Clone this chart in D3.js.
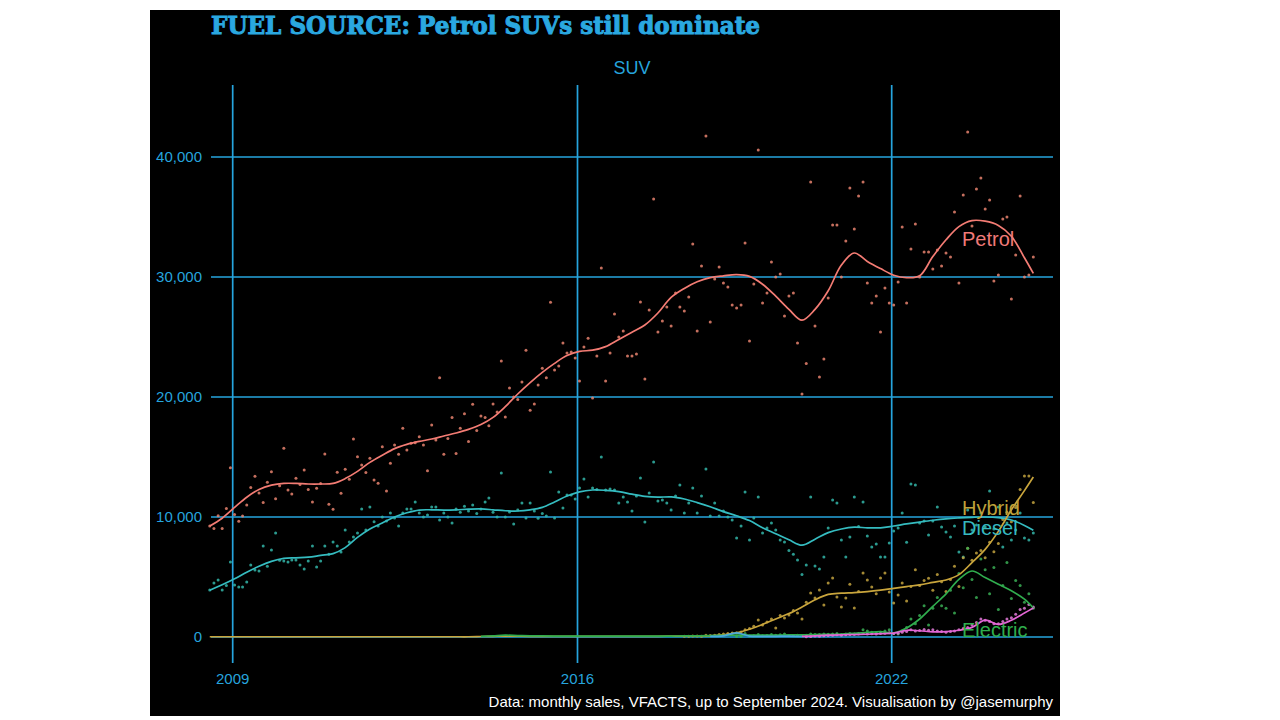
<!DOCTYPE html>
<html>
<head>
<meta charset="utf-8">
<script src="https://cdn.jsdelivr.net/npm/d3@7"></script>
<style>
  html, body { margin: 0; padding: 0; background: #fff; }
  svg { display: block; }
</style>
</head>
<body>
<div id="chart"></div>
<script>
// monthly SUV sales by fuel, Jul 2008 .. Sep 2024
const petrolMonthly = [
  9250, 9050, 10100, 9050, 10700, 14100,
  10200, 9650, 10080, 11000, 12450, 13400, 12000, 11200, 12900, 13780, 11530, 12610,
  15720, 12250, 11920, 13220, 12700, 13920, 12300, 11250, 12390, 12800, 15250, 11060,
  10640, 13720, 11970, 13970, 13140, 16500, 15030, 14330, 13700, 14900, 13080, 12810,
  15860, 12170, 14470, 16000, 15220, 17400, 15580, 16140, 16190, 16690, 16000, 13860,
  17670, 16410, 21600, 15220, 16550, 18300, 15300, 17400, 18600, 16300, 19400, 17200,
  18420, 18300, 17600, 19420, 18750, 23000, 18330, 20750, 20000, 19800, 21250, 23900,
  18900, 19420, 21000, 22400, 21600, 27900, 22250, 22580, 24500, 23670, 23750, 23250,
  21330, 24170, 24900, 19920, 23420, 30750, 21330, 23670, 26920, 25000, 25500, 23420,
  23420, 23580, 27920, 21500, 27250, 36500, 25420, 26330, 27500, 25920, 28670, 27500,
  27170, 28330, 32750, 25500, 30920, 41750, 26250, 29830, 30830, 29500, 29170, 27670,
  27420, 27670, 32830, 24670, 29420, 40580, 27830, 28670, 31250, 30000, 30250, 26750,
  28420, 28670, 24500, 20250, 22800, 37920, 25920, 21670, 23170, 28250, 34330, 34330,
  30000, 33000, 37420, 34000, 36750, 37920, 29500, 27830, 28420, 25420, 29080, 27830,
  27670, 29580, 34170, 27830, 32330, 34420, 30000, 32080, 32080, 30670, 32250, 30920,
  32000, 31670, 35420, 29500, 36830, 42080, 34250, 37330, 38250, 35670, 36420, 29670,
  30170, 34830, 35000, 28170, 31830, 36750, 30000, 30170, 31670
];
const dieselMonthly = [
  3920, 4500, 4750, 3920, 4300, 6250,
  4330, 4170, 4170, 4580, 6000, 5580, 5500, 7580, 5900, 7250, 8670, 6400,
  6330, 6250, 6420, 6420, 6000, 5670, 6330, 7580, 5830, 6330, 7580, 6900,
  7920, 7580, 7080, 8920, 7920, 8330, 8670, 10670, 8920, 10830, 9600, 9250,
  10000, 9670, 10330, 9920, 9250, 10330, 10670, 10670, 11250, 10330, 10000, 10170,
  10830, 10830, 9750, 10330, 10000, 9500, 10670, 10400, 10900, 10500, 11000, 10300,
  10670, 11250, 11580, 10400, 10000, 13670, 10000, 10420, 9420, 10580, 11170, 9920,
  11170, 10500, 9900, 10300, 10080, 13750, 9920, 12080, 10750, 11830, 11830, 11500,
  12420, 13170, 11670, 12420, 12300, 15000, 12250, 12330, 12250, 11170, 11670, 11250,
  10500, 11750, 13250, 9580, 12000, 14580, 11330, 11420, 11170, 10580, 11750, 12670,
  10330, 11170, 12420, 10330, 11750, 14000, 10080, 11170, 10080, 10500, 10000, 9750,
  8250, 9250, 12080, 8080, 9920, 11670, 8670, 9080, 9500, 8920, 8080, 7920,
  7200, 6900, 6420, 5200, 6000, 11670, 5920, 5670, 6670, 9080, 11420, 11170,
  8080, 6670, 8330, 11670, 9200, 11250, 8420, 7500, 7750, 6670, 6670, 7830,
  8830, 9080, 10330, 7900, 12750, 12670, 9500, 9670, 8500, 9670, 10830, 9170,
  8750, 8330, 9250, 7080, 6670, 10580, 8920, 9330, 10330, 9170, 12170, 9000,
  10830, 7500, 9500, 8080, 8920, 10330, 8250, 8080, 8670
];
// from Jan 2018
const hybridMonthly = [
  60, 70, 80, 90, 70, 150, 120, 140, 200, 260, 300, 330,
  350, 420, 600, 700, 900, 1420, 1000, 1250, 1500, 750, 1800, 1580,
  1830, 2200, 2000, 1500, 2900, 3670, 3250, 3920, 2670, 4500, 4920, 3330,
  2500, 3250, 4400, 2420, 3800, 5330, 4750, 4170, 3600, 4920, 5330, 3750,
  2830, 3500, 4500, 3000, 4200, 5600, 4300, 4700, 4900, 3900, 5200, 4600,
  3800, 4800, 5900, 4200, 6600, 7400, 6400, 7000, 7200, 6600, 7900, 7100,
  7800, 9800, 10400, 9600, 10800, 12300, 13420, 13420, 11200
];
// from Jan 2019
const electricMonthly = [
  50, 60, 300, 80, 100, 200, 100, 120, 200, 150, 180, 250,
  100, 120, 150, 100, 150, 250, 200, 200, 250, 220, 250, 300,
  200, 250, 300, 250, 300, 600, 500, 400, 350, 400, 500, 600,
  300, 250, 500, 800, 1500, 1100, 1800, 2600, 1000, 2400, 3300, 2600,
  2400, 3900, 2000, 5300, 4100, 7400, 4800, 3300, 6500, 5600, 3600, 5800,
  2300, 4300, 6200, 3200, 4700, 4300, 2900, 3600, 2400
];
// from May 2020
const phevMonthly = [
  30, 50, 80, 60, 100, 120, 150, 180,
  150, 180, 200, 220, 250, 300, 250, 280, 260, 300, 320, 350,
  300, 320, 400, 450, 600, 500, 550, 620, 560, 600, 500, 450,
  400, 450, 500, 600, 700, 800, 1000, 1200, 1500, 1400, 1300, 1100,
  1100, 1300, 1500, 1600, 1900, 2300, 2400, 2700, 2500
];

// smoothed trends, one value per quarter from Jul 2008, last one Sep 2024
const petrolTrend = [
  9250, 9900, 10800, 11650, 12300, 12650, 12800, 12800, 12750, 12750,
  12800, 13200, 13800, 14550, 15150, 15700, 16050, 16300, 16500, 16750,
  17000, 17300, 17700, 18300, 19200, 20250, 21200, 22050, 22800, 23450,
  23800, 23900, 24200, 24800, 25400, 26000, 27000, 28300, 29050, 29600,
  29950, 30100, 30200, 30050, 29400, 28400, 27300, 26400, 27300, 28850,
  31000, 32000, 31300, 30700, 30150, 29950, 30100, 31700, 33100, 34200,
  34700, 34650, 34300, 33400, 31600, 30300
];
const dieselTrend = [
  3900, 4350, 4850, 5400, 5900, 6300, 6550, 6600, 6650, 6800,
  6950, 7450, 8300, 9000, 9500, 10000, 10350, 10580, 10600, 10580,
  10600, 10650, 10670, 10600, 10520, 10500, 10600, 10800, 11250, 11750,
  12100, 12250, 12220, 12120, 11900, 11720, 11650, 11680, 11500, 11200,
  10850, 10450, 10100, 9700, 9100, 8600, 8100, 7650, 8150, 8700,
  9000, 9150, 9100, 9100, 9250, 9420, 9580, 9730, 9850, 9920,
  9970, 10000, 9950, 9750, 9300, 8900
];
const hybridTrend = [
  20, 20, 20, 20, 20, 20, 20, 20, 20, 20,
  20, 20, 20, 20, 20, 20, 20, 20, 20, 20,
  20, 20, 40, 60, 80, 70, 60, 60, 60, 60,
  60, 60, 60, 60, 60, 60, 60, 70, 70, 80,
  100, 180, 350, 650, 1050, 1500, 1950, 2500, 3100, 3550,
  3650, 3700, 3780, 3900, 4050, 4200, 4350, 4550, 4750, 5200,
  6200, 7300, 8800, 10600, 12200, 13330
];
// from the 2014 Q1 point
const electricTrend = [
  60, 100, 150, 120, 100, 90, 80, 80,
  80, 80, 80, 70, 70, 70, 70, 80,
  90, 100, 120, 140, 150, 150, 150, 160,
  170, 180, 200, 220, 250, 300, 380, 450,
  350, 750, 1500, 2550, 3600, 4800, 5500, 4950, 4400, 3850, 3150, 2420
];
// short unlabelled series, Jul 2018 .. Apr 2020
const otherTrend = [50, 100, 350, 80, 60, 60, 80, 60];
// pink series from Apr 2020
const phevTrend = [
  50, 100, 150, 180, 200, 230, 270, 330, 560, 520,
  430, 450, 560, 800, 1400, 1050, 1400, 2000, 2420
];

const yTicks = [0, 10000, 20000, 30000, 40000];
const xTickYears = [2009, 2016, 2022];

// ---- layout ----
const W = 1280, H = 720;
const panel = { left: 211, right: 1053, top: 85, bottom: 663 };

const months = d3.timeMonth.range(new Date(2008, 6, 1), new Date(2024, 9, 1))
  .map(d => d3.timeDay.offset(d, 14));
const trendIdx = d3.range(0, 193, 3).concat([194]);
const trendDates = trendIdx.map(i => months[i]);

const series = [
  { name: "Petrol",   line: "#f47c74", dot: "#e8836e", dots: petrolMonthly,  dotStart: 0,   trend: petrolTrend,   trendStart: 0 },
  { name: "Diesel",   line: "#35bcc0", dot: "#33b5a8", dots: dieselMonthly,  dotStart: 0,   trend: dieselTrend,   trendStart: 0 },
  { name: "Hybrid",   line: "#c9a53c", dot: "#c2a23e", dots: hybridMonthly,  dotStart: 114, trend: hybridTrend,   trendStart: 0 },
  { name: "Electric", line: "#30ad4e", dot: "#3aae55", dots: electricMonthly, dotStart: 126, trend: electricTrend, trendStart: 22 },
  { name: "Other",    line: "#4aa8dc", dot: "#4aa8dc", dots: [],             dotStart: 0,   trend: otherTrend,    trendStart: 40 },
  { name: "PHEV",     line: "#e466d6", dot: "#e27ad8", dots: phevMonthly,    dotStart: 142, trend: phevTrend,     trendStart: 47 }
];

const labels = [
  { name: "Petrol",   color: "#f07a78", value: 32600 },
  { name: "Hybrid",   color: "#bfa23a", value: 10170 },
  { name: "Diesel",   color: "#36b9c0", value: 8500 },
  { name: "Electric", color: "#2fae4d", value: 0 }
];

const blue = "#26a4dd";

const svg = d3.select("#chart").append("svg")
  .attr("width", W).attr("height", H);

svg.append("rect")
  .attr("x", 150).attr("y", 10)
  .attr("width", 910).attr("height", 706)
  .attr("fill", "#000");

const x = d3.scaleTime()
  .domain(xTickYears.map(yr => new Date(yr, 0, 1)))
  .range([232.7, 577.5, 891.7]);

const y = d3.scaleLinear()
  .domain([0, 40000])
  .range([637, 157]);

// grid
const grid = svg.append("g");
grid.selectAll("line.h").data(yTicks).enter().append("line")
  .attr("x1", panel.left).attr("x2", panel.right)
  .attr("y1", d => y(d)).attr("y2", d => y(d))
  .attr("stroke", blue).attr("stroke-width", 1.7);
grid.selectAll("line.v").data(xTickYears).enter().append("line")
  .attr("x1", d => x(new Date(d, 0, 1))).attr("x2", d => x(new Date(d, 0, 1)))
  .attr("y1", panel.top).attr("y2", panel.bottom)
  .attr("stroke", blue).attr("stroke-width", 1.7);

// axes text
const fmt = d3.format(",");
svg.append("g").selectAll("text").data(yTicks).enter().append("text")
  .attr("x", 202).attr("y", d => y(d) + 5)
  .attr("text-anchor", "end")
  .attr("font-family", "Liberation Sans, Arial, sans-serif")
  .attr("font-size", 15).attr("fill", blue)
  .text(d => fmt(d));

svg.append("g").selectAll("text").data(xTickYears).enter().append("text")
  .attr("x", d => x(new Date(d, 0, 1))).attr("y", 684)
  .attr("text-anchor", "middle")
  .attr("font-family", "Liberation Sans, Arial, sans-serif")
  .attr("font-size", 15).attr("fill", blue)
  .text(d => d);

// dots
series.forEach(s => {
  svg.append("g").selectAll("circle")
    .data(s.dots.map((v, i) => ({ date: months[s.dotStart + i], value: v })))
    .enter().append("circle")
    .attr("cx", d => x(d.date))
    .attr("cy", d => y(d.value))
    .attr("r", 1.5)
    .attr("fill", s.dot)
    .attr("opacity", 0.85);
});

// trend lines
const line = d3.line()
  .x(d => x(d.date))
  .y(d => y(d.value))
  .curve(d3.curveCatmullRom.alpha(0.5));

series.forEach(s => {
  const pts = s.trend.map((v, i) => ({ date: trendDates[s.trendStart + i], value: v }));
  svg.append("path")
    .datum(pts)
    .attr("d", line)
    .attr("fill", "none")
    .attr("stroke", s.line)
    .attr("stroke-width", 1.7);
});

// direct labels
svg.append("g").selectAll("text").data(labels).enter().append("text")
  .attr("x", 962).attr("y", d => y(d.value))
  .attr("font-family", "Liberation Sans, Arial, sans-serif")
  .attr("font-size", 20).attr("fill", d => d.color)
  .text(d => d.name);

// titles
svg.append("text")
  .attr("x", 211).attr("y", 34)
  .attr("font-family", "DejaVu Serif, serif")
  .attr("font-weight", "bold")
  .attr("font-size", 24)
  .attr("textLength", 549).attr("lengthAdjust", "spacingAndGlyphs")
  .attr("fill", "#2aa8e0")
  .attr("stroke", "#2aa8e0").attr("stroke-width", 1)
  .text("FUEL SOURCE: Petrol SUVs still dominate");

svg.append("text")
  .attr("x", 632).attr("y", 74)
  .attr("text-anchor", "middle")
  .attr("font-family", "Liberation Sans, Arial, sans-serif")
  .attr("font-size", 18).attr("fill", blue)
  .text("SUV");

svg.append("text")
  .attr("x", 1053).attr("y", 707)
  .attr("text-anchor", "end")
  .attr("font-family", "Liberation Sans, Arial, sans-serif")
  .attr("font-size", 15).attr("fill", "#fff")
  .text("Data: monthly sales, VFACTS, up to September 2024. Visualisation by @jasemurphy");
</script>
</body>
</html>
